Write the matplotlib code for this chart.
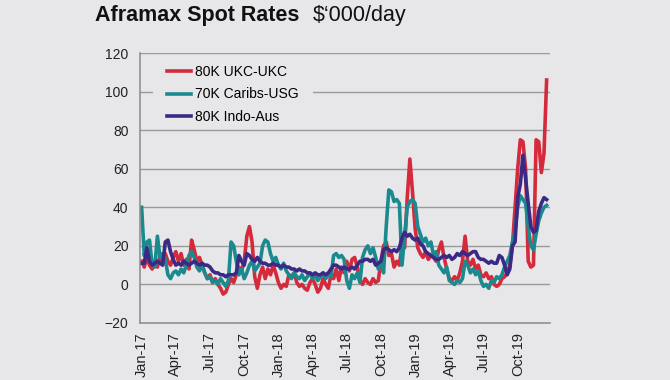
import matplotlib
matplotlib.use('Agg')
import matplotlib.pyplot as plt
import matplotlib.dates as mdates
import pandas as pd

# weekly spot rates, $'000/day, Jan-2017 .. Dec-2019
weeks = pd.date_range('2017-01-01', periods=155, freq='7D')

ukc_ukc = [12, 9, 14, 10, 8, 12, 9, 15, 11, 16,
           12, 10, 14, 17, 12, 16, 10, 13, 8, 23,
           18, 12, 14, 10, 6, 3, 5, 1, 3, 0,
           -2, -5, -4, 0, 3, 1, 5, 9, 7, 12,
           25, 30, 22, 4, -2, 5, 9, 3, 8, 5,
           10, 6, 1, -2, 0, -1, 5, 4, 6, 1,
           -1, 0, -2, -3, 1, 3, 0, -4, -2, 3,
           0, -2, 5, 3, 8, 2, 9, 6, 12, 7,
           13, 14, 9, 2, 0, 3, 1, 0, 3, 1,
           2, 12, 20, 22, 15, 16, 9, 12, 10, 20,
           19, 45, 65, 48, 29, 19, 16, 14, 17, 13,
           15, 14, 12, 18, 22, 14, 8, 3, 2, 4,
           2, 6, 12, 25, 12, 10, 13, 8, 10, 5,
           4, 6, 3, 4, 0, -1, 0, 3, 4, 6,
           10, 20, 40, 60, 75, 74, 60, 12, 9, 10,
           75, 74, 58, 68, 106]

caribs_usg = [40, 15, 22, 23, 10, 9, 25, 14, 16, 13,
              5, 3, 6, 7, 5, 8, 6, 10, 15, 17,
              14, 9, 7, 10, 6, 3, 4, 1, 2, 0,
              3, 1, -1, 2, 22, 20, 12, 5, 8, 3,
              6, 10, 12, 7, 9, 11, 20, 23, 22, 16,
              12, 14, 10, 8, 11, 7, 5, 3, 6, 4,
              3, 5, 2, 4, 6, 3, 5, 2, 4, 6,
              3, 5, 4, 15, 16, 14, 15, 13, 2, -2,
              5, 3, 6, 1, 14, 18, 20, 16, 19, 14,
              8, 12, 6, 30, 49, 48, 43, 44, 42, 10,
              25, 40, 43, 44, 42, 30, 26, 22, 24, 20,
              22, 15, 17, 10, 8, 6, 9, 2, 1, 0,
              2, 1, 3, 12, 10, 6, 8, 5, 7, 2,
              -1, 0, -2, 2, 1, 4, 3, 5, 9, 12,
              15, 22, 28, 40, 46, 44, 42, 30, 20, 18,
              26, 33, 37, 40, 41]

indo_aus = [11, 11, 19, 12, 10, 11, 12, 11, 10, 22,
            23, 17, 13, 10, 11, 10, 12, 11, 10, 11,
            12, 11, 10, 11, 10, 10, 9, 7, 6, 6,
            5, 5, 4, 5, 5, 5, 6, 15, 12, 10,
            16, 15, 13, 12, 14, 12, 11, 11, 10, 10,
            11, 10, 10, 9, 10, 9, 9, 8, 8, 7,
            8, 7, 7, 6, 6, 5, 6, 5, 5, 6,
            5, 6, 8, 10, 10, 9, 8, 9, 8, 8,
            9, 8, 10, 12, 12, 13, 13, 12, 13, 10,
            11, 12, 18, 19, 18, 17, 18, 17, 19, 24,
            27, 25, 26, 24, 23, 24, 21, 20, 17, 16,
            15, 14, 13, 13, 14, 15, 14, 15, 13, 14,
            16, 15, 17, 16, 15, 16, 17, 17, 14, 13,
            13, 12, 11, 12, 11, 11, 15, 14, 10, 5,
            8, 20, 22, 45, 52, 67, 55, 42, 30, 27,
            28, 38, 42, 45, 44]

series = ['80K UKC-UKC', '70K Caribs-USG', '80K Indo-Aus']
colors = ['#d42a3c', '#1b8a8f', '#3a2a86']

bg = '#e7e7e9'
plt.rcParams['font.family'] = ['Liberation Sans', 'DejaVu Sans']

fig = plt.figure(figsize=(6.7, 3.8), dpi=100, facecolor=bg)
ax = fig.add_axes([0.2097, 0.15, 0.6112, 0.7105], facecolor=bg)

for vals, name, c in zip([ukc_ukc, caribs_usg, indo_aus], series, colors):
    ax.plot(weeks, vals, color=c, lw=2.6, label=name, solid_joinstyle='round')

ax.set_ylim(-20, 120)
ax.set_yticks(range(-20, 121, 20))
ax.set_xlim(pd.Timestamp('2016-12-29'), pd.Timestamp('2019-12-24'))
ax.xaxis.set_major_locator(mdates.MonthLocator(bymonth=[1, 4, 7, 10]))
ax.xaxis.set_major_formatter(mdates.DateFormatter('%b-%y'))

ax.tick_params(axis='x', length=0, pad=6.5, labelrotation=90, labelsize=10.5,
               colors='#222222')
ax.tick_params(axis='y', length=0, pad=8.6, labelsize=10, colors='#222222')

ax.grid(axis='y', color='#9a9a9a', lw=1)
ax.set_axisbelow(True)
for s in ['top', 'right']:
    ax.spines[s].set_visible(False)
for s in ['left', 'bottom']:
    ax.spines[s].set_color('#8a8a8a')
    ax.spines[s].set_linewidth(1.1)

leg = ax.legend(loc='upper left', bbox_to_anchor=(0.0647, 0.955), borderpad=0,
                borderaxespad=0, handlelength=1.75, handletextpad=0.3,
                labelspacing=0.6, fontsize=10, frameon=True, fancybox=False)
frame = leg.get_frame()
frame.set_facecolor(bg)
frame.set_edgecolor('none')
frame.set_alpha(1)
frame.set_boxstyle('square', pad=1.0)
frame.set_mutation_aspect(0.1)

fig.text(95 / 670, 1 - 21 / 380, 'Aframax Spot Rates', fontsize=15.5,
         fontweight='bold', va='baseline', ha='left', color='#111111')
fig.text(313 / 670, 1 - 21 / 380, "$\u2018000/day", fontsize=15.5,
         va='baseline', ha='left', color='#111111', parse_math=False)

fig.savefig('out.png', dpi=100, facecolor=bg)
